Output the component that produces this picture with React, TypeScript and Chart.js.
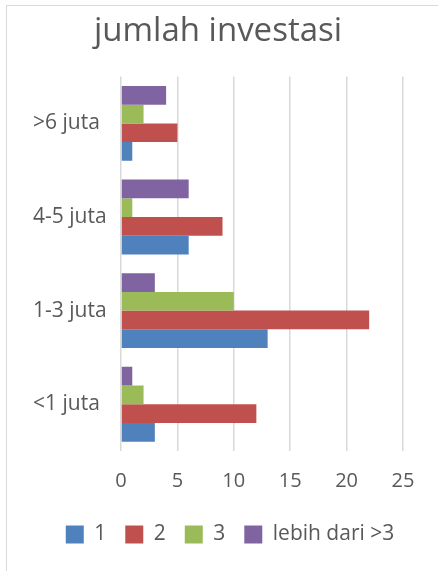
import React, { useEffect, useRef } from "react";
import { Chart, registerables } from "chart.js";

Chart.register(...registerables);

// Categories listed top-to-bottom as they appear in the chart
const categories = [">6 juta", "4-5 juta", "1-3 juta", "<1 juta"];
const seriesNames = ["1", "2", "3", "lebih dari >3"];
const series1 = [1, 6, 13, 3];
const series2 = [5, 9, 22, 12];
const series3 = [2, 1, 10, 2];
const series4 = [4, 6, 3, 1];
const xTicks = [0, 5, 10, 15, 20, 25];
const colors = ["#4F81BD", "#C0504D", "#9BBB59", "#8064A2"];
const titleText = "jumlah investasi";

const FONT = "'Open Sans', 'DejaVu Sans', sans-serif";
const TEXT = "#595959";

const legendShift = {
  id: "legendShift",
  afterLayout(chart: any) {
    const l = chart.legend;
    if (l) {
      l.left += 12;
      l.right += 12;
    }
  },
};

export default function App() {
  const ref = useRef<HTMLCanvasElement | null>(null);

  useEffect(() => {
    document.body.style.margin = "0";
    document.documentElement.style.overflow = "hidden";
    if (!ref.current) return;
    const allSeries = [series1, series2, series3, series4];
    // reverse dataset order so that series "1" is drawn at the bottom of each group
    const datasets = allSeries
      .map((data, i) => ({
        label: seriesNames[i],
        data,
        backgroundColor: colors[i],
        borderWidth: 0,
        barPercentage: 1,
        categoryPercentage: 0.8,
      }))
      .reverse();

    const chart = new Chart(ref.current, {
      type: "bar",
      data: { labels: categories, datasets },
      plugins: [legendShift],
      options: {
        indexAxis: "y",
        animation: false,
        responsive: false,
        maintainAspectRatio: false,
        layout: { padding: { left: 33, right: 35, top: 0, bottom: 16 } },
        plugins: {
          title: {
            display: true,
            text: titleText,
            color: TEXT,
            font: { family: FONT, size: 33, weight: "normal", lineHeight: 1.2 },
            padding: { top: 12, bottom: 25 },
          },
          legend: {
            display: true,
            position: "bottom",
            reverse: true,
            labels: {
              boxWidth: 18,
              boxHeight: 18,
              padding: 19,
              color: TEXT,
              font: { family: FONT, size: 21, lineHeight: 1.2 },
            },
          },
          tooltip: { enabled: false },
        },
        scales: {
          x: {
            type: "linear",
            min: 0,
            max: 25,
            afterBuildTicks: (scale: any) => {
              scale.ticks = xTicks.map((v) => ({ value: v }));
            },
            afterFit: (scale: any) => {
              scale.height = 54;
            },
            grid: { color: "#d9d9d9", lineWidth: 1.5, drawTicks: false },
            border: { display: false },
            ticks: {
              color: TEXT,
              padding: 18,
              font: { family: FONT, size: 20, lineHeight: 1.2 },
            },
          },
          y: {
            type: "category",
            afterFit: (scale: any) => {
              scale.width = 88;
            },
            grid: { display: false, drawTicks: false },
            border: { display: false },
            ticks: {
              color: TEXT,
              padding: 14,
              crossAlign: "far",
              font: { family: FONT, size: 21, lineHeight: 1.2 },
            },
          },
        },
      },
    });
    return () => chart.destroy();
  }, []);

  return (
    <div style={{ position: "relative", width: 438, height: 571, overflow: "hidden", background: "#fff" }}>
      <div
        style={{
          position: "absolute",
          left: 6,
          top: 5,
          width: 500,
          height: 620,
          border: "1px solid #d9d9d9",
          boxSizing: "border-box",
        }}
      />
      <canvas ref={ref} width={438} height={571} style={{ position: "absolute", left: 0, top: 0, width: 438, height: 571 }} />
    </div>
  );
}
